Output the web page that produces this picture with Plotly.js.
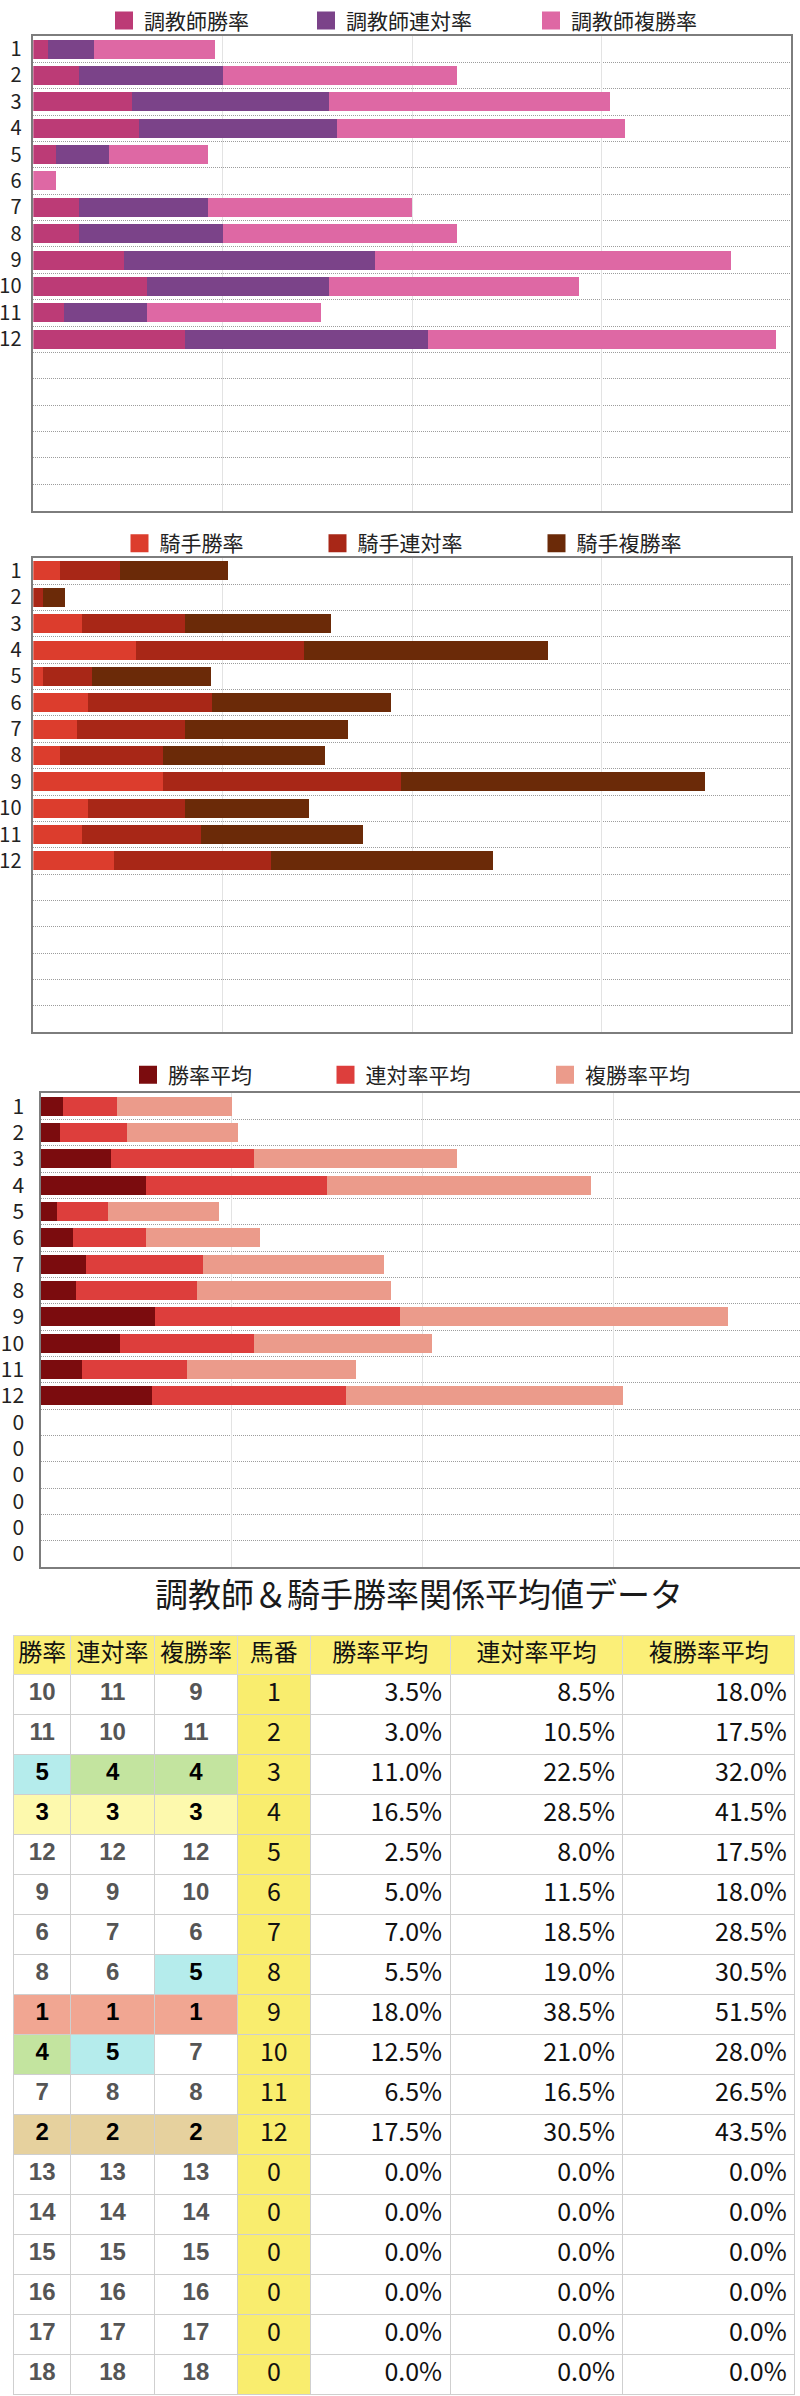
<!DOCTYPE html>
<html><head><meta charset="utf-8">
<script src="https://cdn.plot.ly/plotly-3.0.1.min.js"></script>
<style>html,body{margin:0;padding:0;background:#fff;overflow:hidden}#g{width:800px;height:2396px}</style>
</head><body><div id="g"></div>
<script>
// ---------- data ----------
const horseNo = [1,2,3,4,5,6,7,8,9,10,11,12,0,0,0,0,0,0];
const chartLabels = ['1','2','3','4','5','6','7','8','9','10','11','12','','','','','',''];

const trainerNames = ['調教師勝率','調教師連対率','調教師複勝率'];
const trainerWin    = [2.4, 7.2, 15.6, 16.8, 3.6, 0,   7.2,  7.2, 14.4, 18.0, 4.8, 24.0];
const trainerRentai = [7.2, 22.8, 31.3, 31.3, 8.4, 0,  20.4, 22.8, 39.7, 28.8, 13.2, 38.5];
const trainerFuku   = [19.2, 37.2, 44.4, 45.6, 15.6, 3.6, 32.4, 37.2, 56.5, 39.6, 27.6, 55.2];

const jockeyNames = ['騎手勝率','騎手連対率','騎手複勝率'];
const jockeyWin    = [4.2, 0,   7.7, 16.3, 1.6, 8.6, 6.9, 4.2, 20.6, 8.6, 7.7, 12.8];
const jockeyRentai = [9.5, 1.6, 16.3, 26.6, 7.7, 19.7, 17.2, 16.3, 37.7, 15.4, 18.9, 24.9];
const jockeyFuku   = [17.1, 3.5, 23.1, 38.7, 18.9, 28.4, 25.7, 25.7, 48.1, 19.7, 25.7, 35.2];

const avgNames = ['勝率平均','連対率平均','複勝率平均'];
const avgWin    = [3.5, 3.0, 11.0, 16.5, 2.5, 5.0, 7.0, 5.5, 18.0, 12.5, 6.5, 17.5, 0,0,0,0,0,0];
const avgRentai = [8.5, 10.5, 22.5, 28.5, 8.0, 11.5, 18.5, 19.0, 38.5, 21.0, 16.5, 30.5, 0,0,0,0,0,0];
const avgFuku   = [18.0, 17.5, 32.0, 41.5, 17.5, 18.0, 28.5, 30.5, 51.5, 28.0, 26.5, 43.5, 0,0,0,0,0,0];

const rankWin    = [10,11,5,3,12,9,6,8,1,4,7,2,13,14,15,16,17,18];
const rankRentai = [11,10,4,3,12,9,7,6,1,5,8,2,13,14,15,16,17,18];
const rankFuku   = [9,11,4,3,12,10,6,5,1,7,8,2,13,14,15,16,17,18];

const chartTitle = '調教師＆騎手勝率関係平均値データ';
const tableHeaders = ['勝率','連対率','複勝率','馬番','勝率平均','連対率平均','複勝率平均'];

// ---------- styles ----------
const W = 800, H = 2396;
const py = p => 1 - p / H;
const px = p => p / W;
const JP = '"Noto Sans CJK JP", "Noto Sans", sans-serif';
const colors1 = ['#bc3b76', '#7b4389', '#de68a4'];
const colors2 = ['#dc3d2d', '#a82717', '#6b2a08'];
const colors3 = ['#7b0c0e', '#dd3e3c', '#eb9b8b'];
const rankColors = {1:'#f1a692', 2:'#e6d19e', 3:'#fdf9ad', 4:'#c3e49f', 5:'#b5ecec'};
const headerYellow = '#fbef78';
const horseYellow = '#f9ed6e';

const pos12 = trainerWin.map((_, i) => i + 1);
const pos18 = horseNo.map((_, i) => i + 1);

const traces = [];
function addBars(names, series, colors, xa, ya, yPos, legends) {
  series.forEach((vals, k) => {
    traces.push({
      type: 'bar', orientation: 'h', name: names[k], x: vals, y: yPos,
      width: 0.72, xaxis: xa, yaxis: ya, showlegend: false,
      marker: {color: colors[k], line: {width: 0}},
      hoverinfo: 'x+name'
    });
    traces.push({
      type: 'scatter', mode: 'markers', name: names[k], x: [null], y: [null],
      xaxis: xa, yaxis: ya, legend: legends[k], showlegend: true,
      marker: {symbol: 'square', size: 16, color: colors[k], line: {width: 2, color: colors[k]}}
    });
  });
}
addBars(trainerNames, [trainerWin, trainerRentai, trainerFuku], colors1, 'x', 'y', pos12, ['legend','legend2','legend3']);
addBars(jockeyNames, [jockeyWin, jockeyRentai, jockeyFuku], colors2, 'x2', 'y2', pos12, ['legend4','legend5','legend6']);
addBars(avgNames, [avgWin, avgRentai, avgFuku], colors3, 'x3', 'y3', pos18, ['legend7','legend8','legend9']);

// ---------- table ----------
const rankCols = [rankWin, rankRentai, rankFuku];
const pct = a => a.map(v => v.toFixed(1) + '%');
const cellValues = [
  rankWin.map(String), rankRentai.map(String), rankFuku.map(String),
  horseNo.map(String), pct(avgWin), pct(avgRentai), pct(avgFuku)
];
const cellFill = [
  ...rankCols.map(col => col.map(r => rankColors[r] || '#ffffff')),
  horseNo.map(() => horseYellow),
  avgWin.map(() => '#ffffff'), avgWin.map(() => '#ffffff'), avgWin.map(() => '#ffffff')
];
const cellFontColor = [
  ...rankCols.map(col => col.map(r => r <= 5 ? '#000000' : '#555555')),
  horseNo.map(() => '#111111'),
  avgWin.map(() => '#111111'), avgWin.map(() => '#111111'), avgWin.map(() => '#111111')
];
traces.push({
  type: 'table',
  domain: {x: [px(13.7), px(795)], y: [0, py(1631.5)]},
  columnwidth: [57, 84, 83, 73, 140, 173, 172],
  header: {
    values: tableHeaders, align: 'center', height: 39,
    fill: {color: headerYellow}, line: {color: '#d8d8d8', width: 1},
    font: {family: JP, size: 24, color: '#111111'}
  },
  cells: {
    values: cellValues,
    align: ['center','center','center','center','right','right','right'],
    height: 40,
    fill: {color: cellFill}, line: {color: '#cfcfcf', width: 1},
    font: {
      family: ['Liberation Sans','Liberation Sans','Liberation Sans', JP, JP, JP, JP],
      size: [24, 24, 24, 25, 25, 25, 25],
      weight: ['bold','bold','bold','normal','normal','normal','normal'],
      color: cellFontColor
    }
  }
});

// ---------- layout ----------
const minorTicks = pos18.map(p => p - 0.5).concat([18.5]);
function xAxis(dom, range, anchor) {
  return {domain: dom, range: range, anchor: anchor, fixedrange: true,
    tickmode: 'linear', tick0: 0, dtick: 30, showticklabels: false, ticks: '',
    showgrid: true, gridcolor: '#e3e3e3', gridwidth: 1, zeroline: false,
    showline: true, mirror: true, linecolor: '#7d7d7d', linewidth: 1.5};
}
function yAxis(dom, anchor, labels, fsize, standoff) {
  return {domain: dom, range: [18.5, 0.5], anchor: anchor, fixedrange: true,
    tickmode: 'array', tickvals: pos18, ticktext: labels, ticks: '',
    ticklabelstandoff: standoff,
    tickfont: {family: JP, size: fsize, color: '#222222'},
    showgrid: false, zeroline: false,
    showline: true, mirror: true, linecolor: '#7d7d7d', linewidth: 1.5,
    minor: {tickmode: 'array', tickvals: minorTicks, ticks: '', showgrid: true,
      gridcolor: '#9c9c9c', gridwidth: 1, griddash: '1px,1px'}};
}
function legendAt(centerPx, yPx) {
  return {orientation: 'h', x: px(centerPx - 18), xanchor: 'left', y: py(yPx), yanchor: 'middle',
    bgcolor: 'rgba(0,0,0,0)', borderwidth: 0, itemclick: false, itemdoubleclick: false,
    font: {family: JP, size: 21, color: '#222222'}};
}
const layout = {
  width: W, height: H, margin: {l: 0, r: 0, t: 0, b: 0},
  paper_bgcolor: '#ffffff', plot_bgcolor: '#ffffff',
  barmode: 'stack', hovermode: 'closest', showlegend: true,
  font: {family: JP},
  xaxis: xAxis([px(33.3), px(790.7)], [0, 120], 'y'),
  yaxis: yAxis([py(502), py(25)], 'x', chartLabels, 20, 6),
  xaxis2: xAxis([px(33.3), px(790.7)], [0, 120], 'y2'),
  yaxis2: yAxis([py(1026), py(549.3)], 'x2', chartLabels, 20, 6),
  xaxis3: xAxis([px(41), 1], [0, 119.4], 'y3'),
  yaxis3: yAxis([py(1563.3), py(1087)], 'x3', horseNo.map(String), 21, 11),
  legend: legendAt(122, 10), legend2: legendAt(324, 10), legend3: legendAt(549, 10),
  legend4: legendAt(137.5, 535), legend5: legendAt(335.5, 535), legend6: legendAt(554.5, 535),
  legend7: legendAt(146, 1069), legend8: legendAt(343.5, 1069), legend9: legendAt(563, 1069),
  annotations: [{
    text: chartTitle, xref: 'paper', yref: 'paper', x: px(419), y: py(1589),
    xanchor: 'center', yanchor: 'middle', showarrow: false,
    font: {family: JP, size: 33, color: '#1a1a1a'}
  }]
};
Plotly.newPlot('g', traces, layout, {staticPlot: false, displayModeBar: false});
</script></body></html>
